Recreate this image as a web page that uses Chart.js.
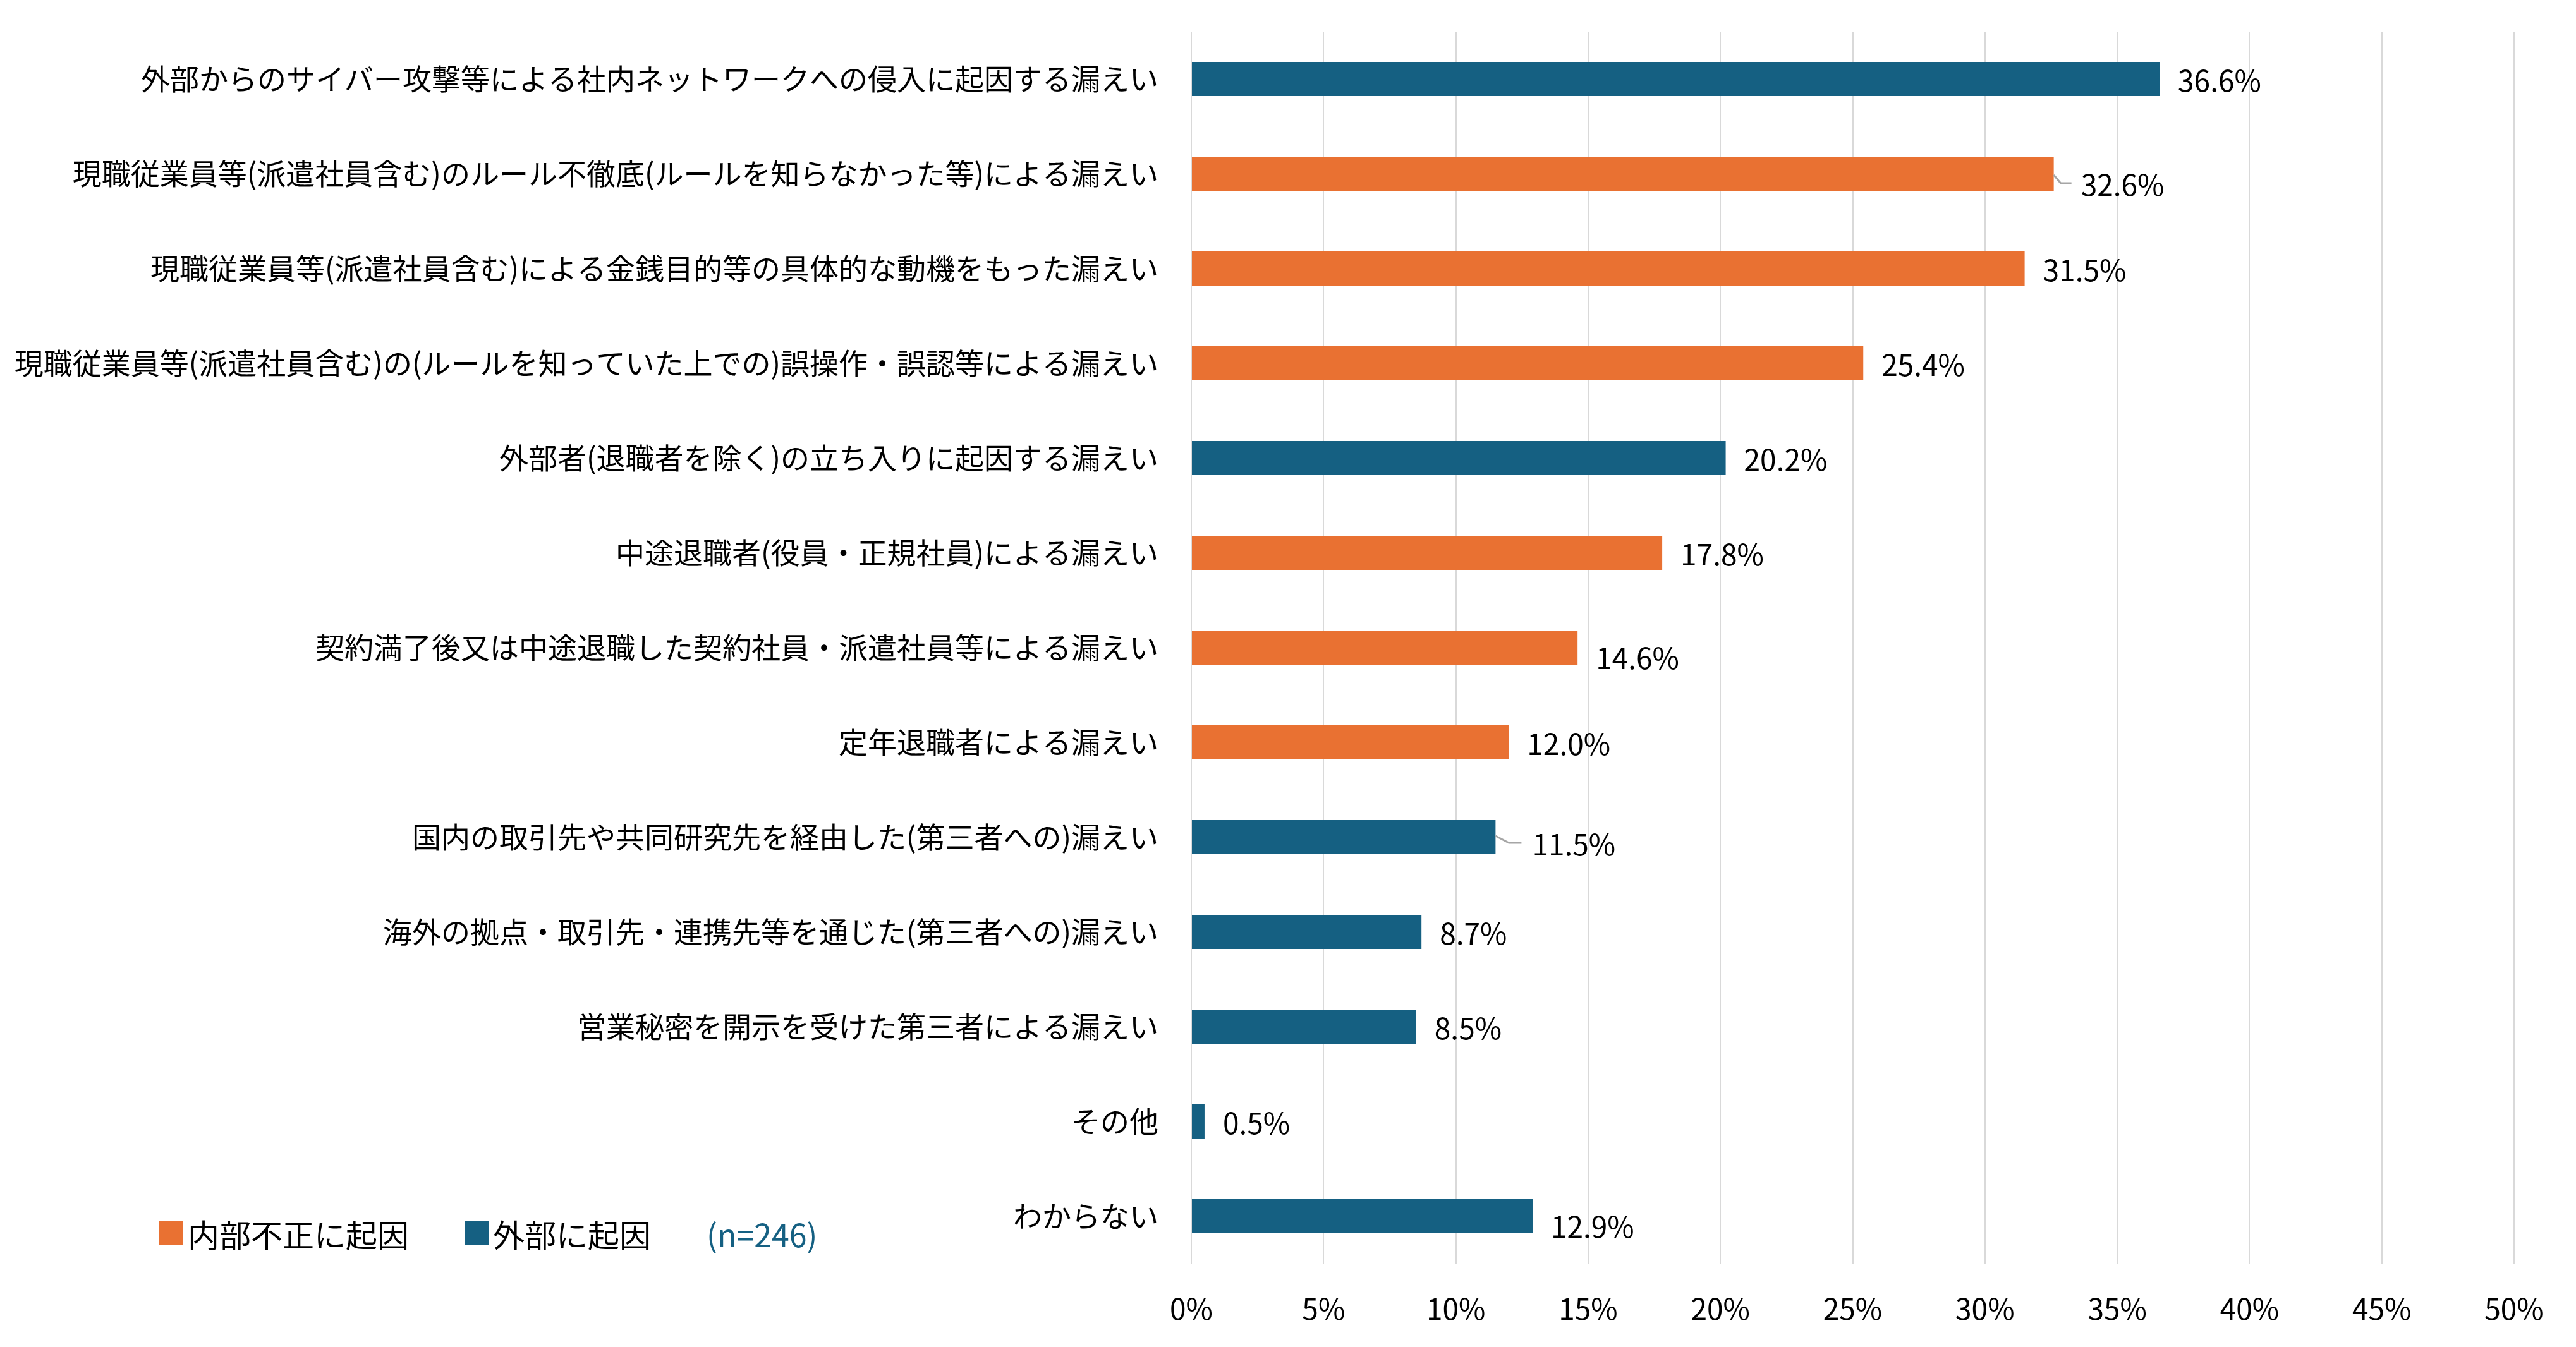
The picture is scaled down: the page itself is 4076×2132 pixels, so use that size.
<!DOCTYPE html>
<html lang="ja">
<head>
<meta charset="utf-8">
<script src="https://cdn.jsdelivr.net/npm/chart.js@4/dist/chart.umd.min.js"></script>
<style>
  html, body { margin: 0; padding: 0; background: #fff; }
  #wrap { position: relative; width: 4076px; height: 2132px; }
  #legend {
    position: absolute; left: 252px; top: 1922px; height: 60px;
    display: flex; align-items: center;
    font-family: "Noto Sans CJK JP", sans-serif; font-size: 50px; color: #000;
  }
  #legend .box { width: 38px; height: 38px; margin-right: 7px; }
  #legend .item { display: flex; align-items: center; }
  #legend .n { color: #156082; }
</style>
</head>
<body>
<div id="wrap">
  <canvas id="chart" width="4076" height="2132"></canvas>
  <div id="legend">
    <div class="item"><div class="box" style="background:#E97132"></div><span>内部不正に起因</span></div>
    <div class="item" style="margin-left:88px"><div class="box" style="background:#156082"></div><span>外部に起因</span></div>
    <div class="item n" style="margin-left:88px">(n=246)</div>
  </div>
</div>
<script>
// categories (top to bottom)
const categories = [
  '外部からのサイバー攻撃等による社内ネットワークへの侵入に起因する漏えい',
  '現職従業員等(派遣社員含む)のルール不徹底(ルールを知らなかった等)による漏えい',
  '現職従業員等(派遣社員含む)による金銭目的等の具体的な動機をもった漏えい',
  '現職従業員等(派遣社員含む)の(ルールを知っていた上での)誤操作・誤認等による漏えい',
  '外部者(退職者を除く)の立ち入りに起因する漏えい',
  '中途退職者(役員・正規社員)による漏えい',
  '契約満了後又は中途退職した契約社員・派遣社員等による漏えい',
  '定年退職者による漏えい',
  '国内の取引先や共同研究先を経由した(第三者への)漏えい',
  '海外の拠点・取引先・連携先等を通じた(第三者への)漏えい',
  '営業秘密を開示を受けた第三者による漏えい',
  'その他',
  'わからない'
];

// percentages
const values = [36.6, 32.6, 31.5, 25.4, 20.2, 17.8, 14.6, 12.0, 11.5, 8.7, 8.5, 0.5, 12.9];

// cause group of each bar: 'internal' = 内部不正に起因, 'external' = 外部に起因
const causeType = ['external', 'internal', 'internal', 'internal', 'external', 'internal',
  'internal', 'internal', 'external', 'external', 'external', 'external', 'external'];

// x axis ticks
const xTicks = [0, 5, 10, 15, 20, 25, 30, 35, 40, 45, 50];

const COLORS = { internal: '#E97132', external: '#156082' };
const FONT = '"Noto Sans CJK JP", "Noto Sans CJK SC", sans-serif';

// value labels next to bars, a few are nudged down and get a leader line
const valueLabels = {
  id: 'valueLabels',
  afterDatasetsDraw(chart, args, opts) {
    const { ctx } = chart;
    const meta = chart.getDatasetMeta(0);
    meta.data.forEach((bar, i) => {
      const tweak = opts.tweaks[i] || {};
      const gap = tweak.gap ?? opts.gap;
      const dy = tweak.dy ?? opts.dy;
      ctx.save();
      if (tweak.leader) {
        ctx.strokeStyle = '#A6A6A6';
        ctx.lineWidth = 3;
        ctx.beginPath();
        tweak.leader.forEach(([lx, ly], k) => {
          if (k === 0) ctx.moveTo(bar.x + lx, bar.y + ly);
          else ctx.lineTo(bar.x + lx, bar.y + ly);
        });
        ctx.stroke();
      }
      ctx.font = '46px ' + FONT;
      ctx.fillStyle = '#000';
      ctx.textAlign = 'left';
      ctx.textBaseline = 'middle';
      ctx.fillText(values[i].toFixed(1) + '%', bar.x + gap, bar.y + dy);
      ctx.restore();
    });
  }
};

new Chart(document.getElementById('chart'), {
  type: 'bar',
  data: {
    labels: categories,
    datasets: [{
      data: values,
      backgroundColor: causeType.map(t => COLORS[t]),
      categoryPercentage: 1,
      barPercentage: 0.36
    }]
  },
  options: {
    indexAxis: 'y',
    responsive: false,
    animation: false,
    devicePixelRatio: 1,
    layout: { padding: { top: 50, right: 98, bottom: 0, left: 0 } },
    plugins: {
      legend: { display: false },
      tooltip: { enabled: false },
      valueLabels: {
        gap: 29,
        dy: 3,
        tweaks: {
          1: { gap: 43, dy: 18, leader: [[0, 2], [11, 15], [28, 15]] },
          6: { dy: 17 },
          8: { gap: 58, dy: 12, leader: [[0, -2], [21, 9], [41, 9]] },
          12: { dy: 17 }
        }
      }
    },
    scales: {
      x: {
        min: 0,
        max: 50,
        afterBuildTicks: s => { s.ticks = xTicks.map(v => ({ value: v })); },
        afterFit: s => { s.height = 132; },
        grid: { color: '#D9D9D9', lineWidth: 2, drawTicks: false },
        border: { display: false },
        ticks: {
          padding: 44,
          color: '#000',
          font: { family: FONT, size: 46 },
          callback: v => v + '%'
        }
      },
      y: {
        // fixed width; drop the label overhang padding so the plot starts at the top padding
        afterFit: s => { s.width = 1885; s.paddingTop = 0; s.paddingBottom = 0; },
        grid: { display: false, drawTicks: false },
        border: { display: false },
        ticks: {
          padding: 52,
          color: '#000',
          autoSkip: false,
          font: { family: FONT, size: 46 }
        }
      }
    }
  },
  plugins: [valueLabels]
});
</script>
</body>
</html>
